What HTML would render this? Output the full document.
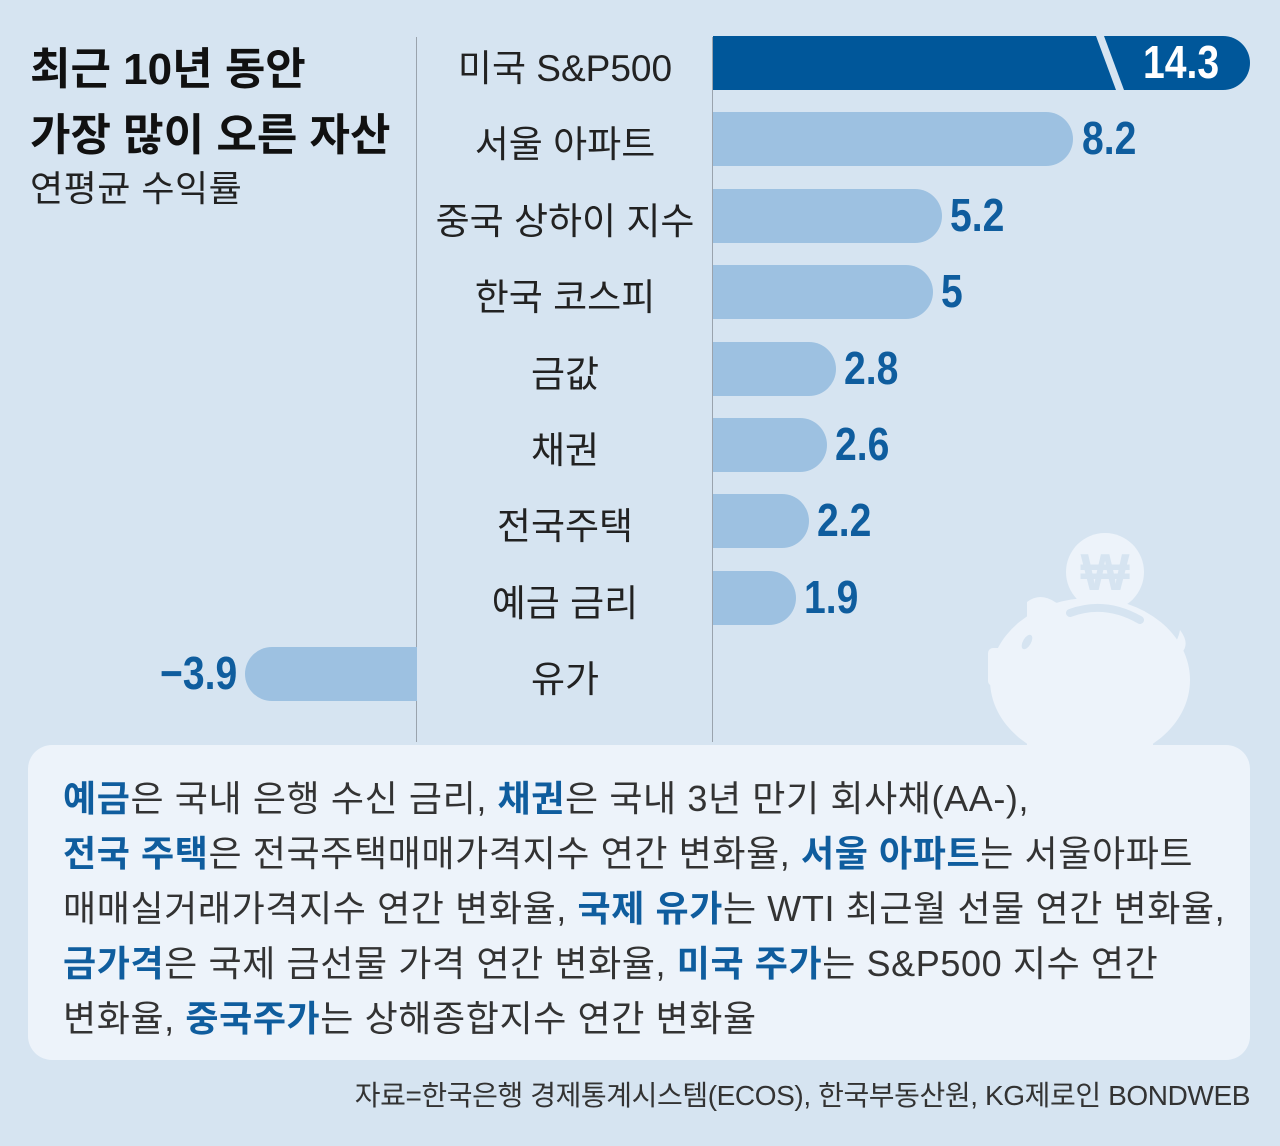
<!DOCTYPE html>
<html><head><meta charset="utf-8"><style>
body{margin:0;width:1280px;height:1146px;background:#d6e4f1;position:relative;overflow:hidden;font-family:"Liberation Sans","Noto Sans CJK KR",sans-serif;}
.a{position:absolute;white-space:nowrap}
.t{font-weight:bold;font-size:44px;color:#111;left:30px;letter-spacing:0px}
.lab{font-size:37px;color:#222;width:296px;left:417px;text-align:center;letter-spacing:0px}
.bar{position:absolute;height:54px;background:#9dc1e1;border-radius:0 27px 27px 0}
.v{font-family:"Liberation Sans Narrow","Liberation Sans",sans-serif;font-weight:bold;font-size:46px;color:#0f5d9e;transform:scaleX(0.85);transform-origin:left center}
.n{font-size:36px;color:#333;left:63px;letter-spacing:0.6px}
.n b{color:#0f5d9e}
</style></head><body>
<div class="a t" style="top:33px">최근 10년 동안</div>
<div class="a t" style="top:99px">가장 많이 오른 자산</div>
<div class="a" style="left:30px;top:160px;font-size:36px;color:#222;letter-spacing:0.5px">연평균 수익률</div>
<div class="a" style="left:416px;top:37px;width:1px;height:705px;background:#9aa3ad"></div>
<div class="a" style="left:712px;top:37px;width:1px;height:705px;background:#9aa3ad"></div>

<svg class="a" style="left:960px;top:520px" width="260" height="230">
<g fill="#edf3fa">
<circle cx="145" cy="52" r="39"/>
<ellipse cx="130" cy="160" rx="100" ry="82"/>
<rect x="28" y="128" width="32" height="38" rx="5"/>
<path d="M67 115 L67 82 Q80 72 95 82 L110 90 Z"/>
<rect x="67" y="180" width="38" height="50"/>
<rect x="155" y="180" width="38" height="50"/>
<path d="M220 110 q15 20 -10 30 l-5 -8 q12 -6 15 -22z"/>
</g>
<text x="145" y="70" font-size="52" font-weight="bold" text-anchor="middle" fill="#d6e4f1" font-family="Liberation Sans,sans-serif">₩</text>
<path d="M110 93 Q145 80 180 100" stroke="#d6e4f1" stroke-width="8" fill="none" stroke-linecap="round"/>
<ellipse cx="67" cy="122" rx="4" ry="8" fill="#d6e4f1" transform="rotate(30 67 122)"/>
</svg>

<div class="a" style="left:713px;top:36px;width:537px;height:54px;background:#00579a;border-radius:0 27px 27px 0"></div>
<svg class="a" style="left:1080px;top:36px" width="50" height="54"><polygon points="16,0 24,0 44,54 36,54" fill="#d6e4f1"/></svg>
<div class="a v" style="left:1143px;top:35px;color:#fff">14.3</div>

<div class="bar" style="left:713px;top:112px;width:360px"></div>
<div class="bar" style="left:713px;top:189px;width:229px"></div>
<div class="bar" style="left:713px;top:265px;width:220px"></div>
<div class="bar" style="left:713px;top:342px;width:123px"></div>
<div class="bar" style="left:713px;top:418px;width:114px"></div>
<div class="bar" style="left:713px;top:494px;width:96px"></div>
<div class="bar" style="left:713px;top:571px;width:83px"></div>
<div class="bar" style="left:245px;top:647px;width:172px;border-radius:27px 0 0 27px"></div>

<div class="a v" style="left:1082px;top:111px">8.2</div>
<div class="a v" style="left:950px;top:188px">5.2</div>
<div class="a v" style="left:941px;top:264px">5</div>
<div class="a v" style="left:844px;top:341px">2.8</div>
<div class="a v" style="left:835px;top:417px">2.6</div>
<div class="a v" style="left:817px;top:493px">2.2</div>
<div class="a v" style="left:804px;top:570px">1.9</div>
<div class="a v" style="left:160px;top:646px">−3.9</div>

<div class="a lab" style="top:38px">미국 S&amp;P500</div>
<div class="a lab" style="top:114px">서울 아파트</div>
<div class="a lab" style="top:191px">중국 상하이 지수</div>
<div class="a lab" style="top:267px">한국 코스피</div>
<div class="a lab" style="top:344px">금값</div>
<div class="a lab" style="top:420px">채권</div>
<div class="a lab" style="top:496px">전국주택</div>
<div class="a lab" style="top:573px">예금 금리</div>
<div class="a lab" style="top:649px">유가</div>

<div class="a" style="left:28px;top:745px;width:1222px;height:315px;background:#edf3fa;border-radius:24px"></div>
<div class="a n" style="top:770px"><b>예금</b>은 국내 은행 수신 금리, <b>채권</b>은 국내 3년 만기 회사채(AA-),</div>
<div class="a n" style="top:825px"><b>전국 주택</b>은 전국주택매매가격지수 연간 변화율, <b>서울 아파트</b>는 서울아파트</div>
<div class="a n" style="top:880px">매매실거래가격지수 연간 변화율, <b>국제 유가</b>는 WTI 최근월 선물 연간 변화율,</div>
<div class="a n" style="top:935px"><b>금가격</b>은 국제 금선물 가격 연간 변화율, <b>미국 주가</b>는 S&amp;P500 지수 연간</div>
<div class="a n" style="top:990px">변화율, <b>중국주가</b>는 상해종합지수 연간 변화율</div>
<div class="a" style="right:30px;top:1074px;font-size:28px;color:#333;letter-spacing:-0.4px">자료=한국은행 경제통계시스템(ECOS), 한국부동산원, KG제로인 BONDWEB</div>
</body></html>
